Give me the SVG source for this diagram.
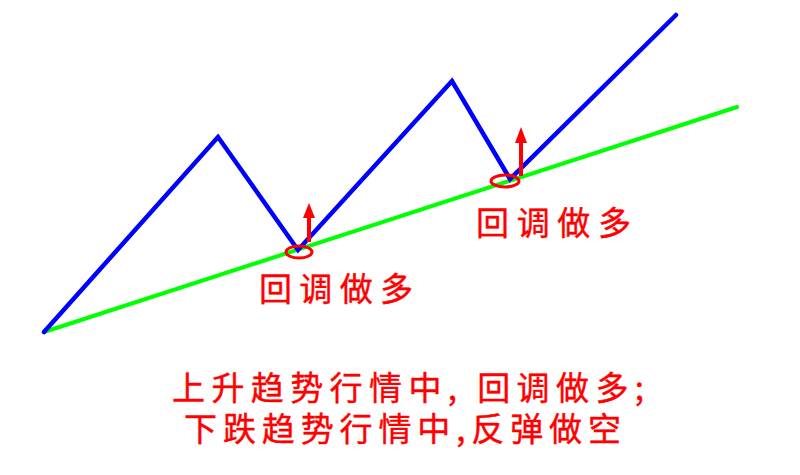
<svg xmlns="http://www.w3.org/2000/svg" width="800" height="475" viewBox="0 0 800 475">
<style>
.t{font-family:"Noto Sans CJK SC","Noto Sans",sans-serif;fill:#FF0000;font-size:33px;font-weight:normal;stroke:#FF0000;stroke-width:0.4}
.mark{fill:none;stroke:#FF0000;stroke-width:3}
.arr{fill:#FF0000}
</style>
<rect width="800" height="475" fill="#FFFFFF"/>
<g id="trend-lines">
<polyline points="44,332 737,107" fill="none" stroke="#00FF00" stroke-width="4" stroke-linecap="round"/>
<polyline points="44,332 218,137 298,250 452,81 510,179 676,15" fill="none" stroke="#0000FF" stroke-width="4.5" stroke-linecap="round" stroke-linejoin="miter"/>
</g>
<g id="pullback-1">
<ellipse class="mark" cx="299" cy="252" rx="13" ry="6"/>
<rect class="arr" x="307" y="215" width="4" height="27"/>
<polygon class="arr" points="303,218 315,218 309,203"/>
</g>
<g id="pullback-2">
<ellipse class="mark" cx="505" cy="181" rx="14" ry="6"/>
<rect class="arr" x="519" y="140" width="4" height="36"/>
<polygon class="arr" points="515,143 527,143 521,127"/>
</g>
<g id="labels">
<text class="t" x="259" y="301" textLength="154" lengthAdjust="spacing">回调做多</text>
<text class="t" x="476" y="235" textLength="155" lengthAdjust="spacing">回调做多</text>
<text class="t" x="172" y="400" textLength="472" lengthAdjust="spacing">上升趋势行情中, 回调做多;</text>
<text class="t" x="184" y="441" textLength="437" lengthAdjust="spacing">下跌趋势行情中,反弹做空</text>
</g>
</svg>
